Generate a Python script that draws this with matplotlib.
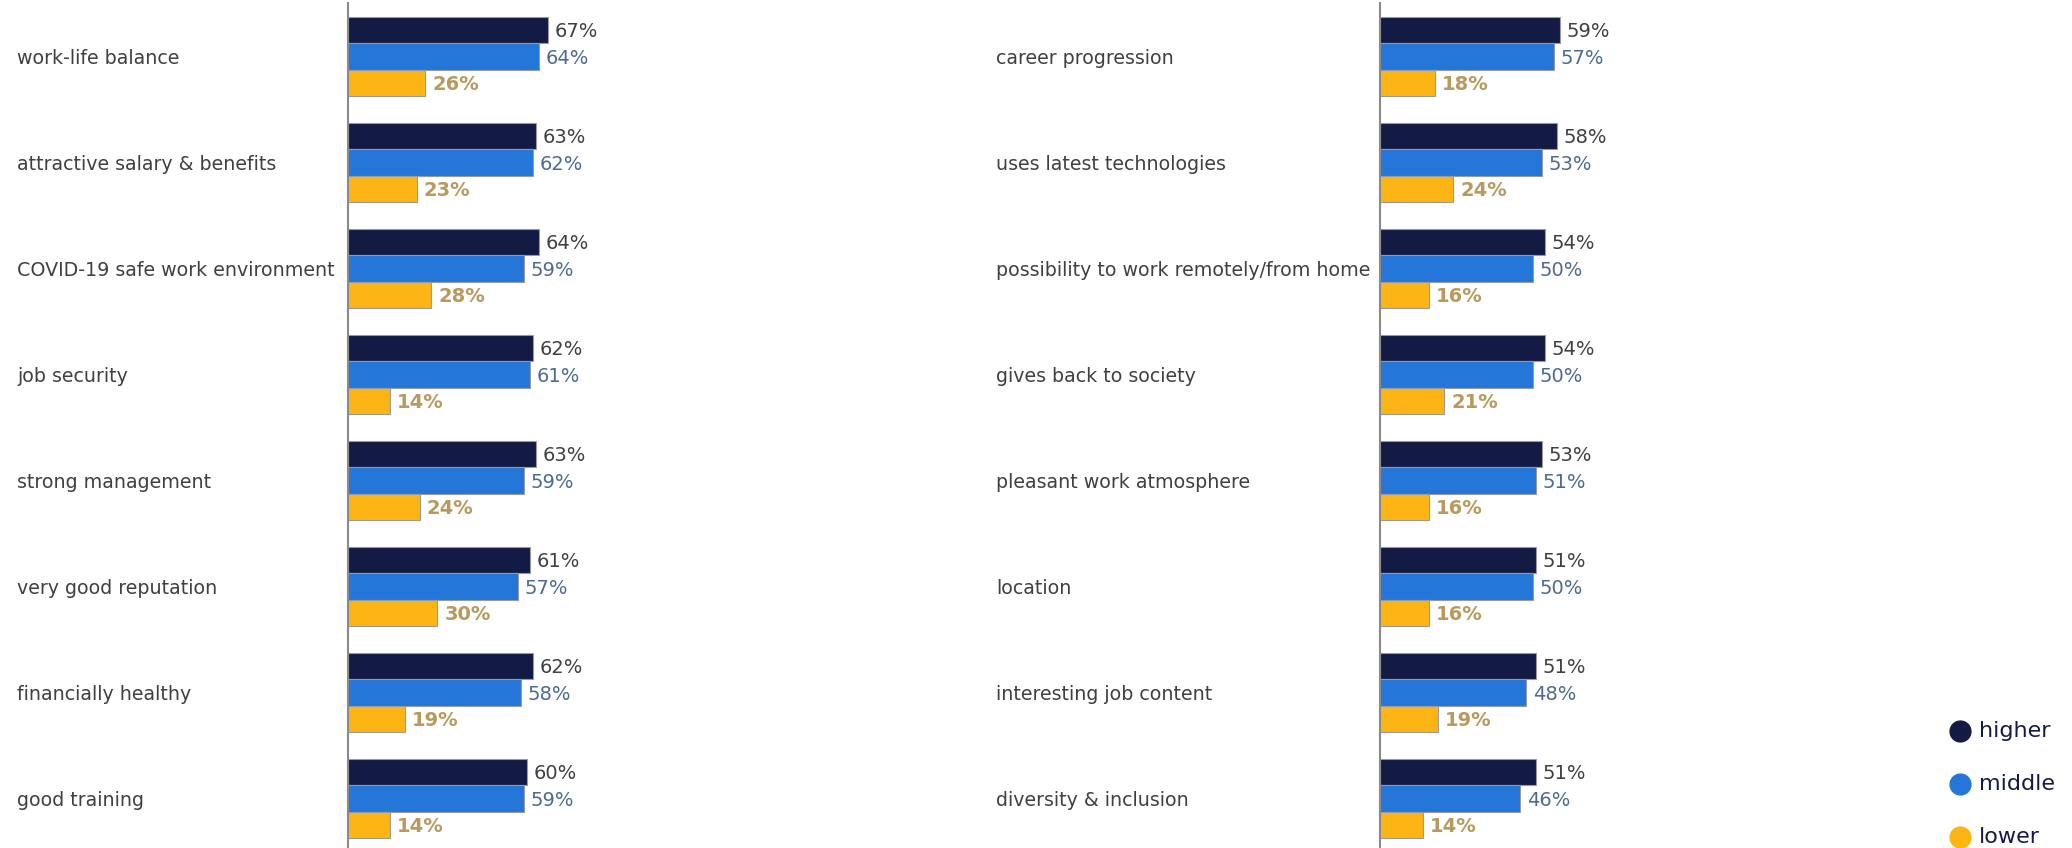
import matplotlib
matplotlib.use("Agg")
import matplotlib.pyplot as plt
from matplotlib.transforms import blended_transform_factory

plt.rcParams['font.family'] = ['DejaVu Sans']

series = ["higher", "middle", "lower"]

left_categories = ["work-life balance", "attractive salary & benefits",
                   "COVID-19 safe work environment", "job security",
                   "strong management", "very good reputation",
                   "financially healthy", "good training"]
left_higher = [67, 63, 64, 62, 63, 61, 62, 60]
left_middle = [64, 62, 59, 61, 59, 57, 58, 59]
left_lower = [26, 23, 28, 14, 24, 30, 19, 14]

right_categories = ["career progression", "uses latest technologies",
                    "possibility to work remotely/from home", "gives back to society",
                    "pleasant work atmosphere", "location",
                    "interesting job content", "diversity & inclusion"]
right_higher = [59, 58, 54, 54, 53, 51, 51, 51]
right_middle = [57, 53, 50, 50, 51, 50, 48, 46]
right_lower = [18, 24, 16, 21, 16, 16, 19, 14]

bar_colors = ["#131b45", "#2477d9", "#fdb515"]
label_colors = ["#404040", "#4f6a8f", "#b89a5e"]
label_weights = ["normal", "normal", "bold"]

W, H = 2072, 848
fig = plt.figure(figsize=(W / 100, H / 100), dpi=100)

def panel(x0, width_px, label_x, cats, vals):
    ax = fig.add_axes([x0 / W, -0.004, width_px / W, 1.0])
    n = len(cats)
    bh = 0.25
    for s in range(3):
        ys = [i + (s - 1) * bh for i in range(n)]
        ax.barh(ys, vals[s], height=bh, color=bar_colors[s],
                edgecolor="#9a9a9a", linewidth=0.8)
        for y, v in zip(ys, vals[s]):
            ax.text(v + 2.3, y, f"{v}%", va="center_baseline", ha="left",
                    fontsize=14, color=label_colors[s],
                    fontweight=label_weights[s])
    ax.set_xlim(0, 100)
    ax.set_ylim(n - 0.5, -0.5)
    for sp in ["top", "right", "bottom"]:
        ax.spines[sp].set_visible(False)
    ax.spines["left"].set_color("#8a8a8a")
    ax.spines["left"].set_linewidth(1.5)
    ax.set_xticks([])
    ax.set_yticks([])
    tr = blended_transform_factory(fig.transFigure, ax.transData)
    for i, c in enumerate(cats):
        fig.text(label_x / W, i, c, transform=tr, ha="left",
                 va="center_baseline", fontsize=13.7, color="#404040")
    return ax

panel(348, 298, 17, left_categories, [left_higher, left_middle, left_lower])
panel(1380, 305, 996, right_categories, [right_higher, right_middle, right_lower])

# legend (manual, figure coordinates)
leg_y = [1 - 731 / H, 1 - 784 / H, 1 - 837 / H]
for c, name, y in zip(bar_colors, series, leg_y):
    fig.add_artist(plt.Line2D([1960 / W], [y], marker="o", markersize=15,
                              markerfacecolor=c, markeredgecolor=c,
                              linestyle="", transform=fig.transFigure))
    fig.text(1979 / W, y, name, ha="left", va="center", fontsize=16,
             color="#131b45")

fig.savefig("out.png", dpi=100)
